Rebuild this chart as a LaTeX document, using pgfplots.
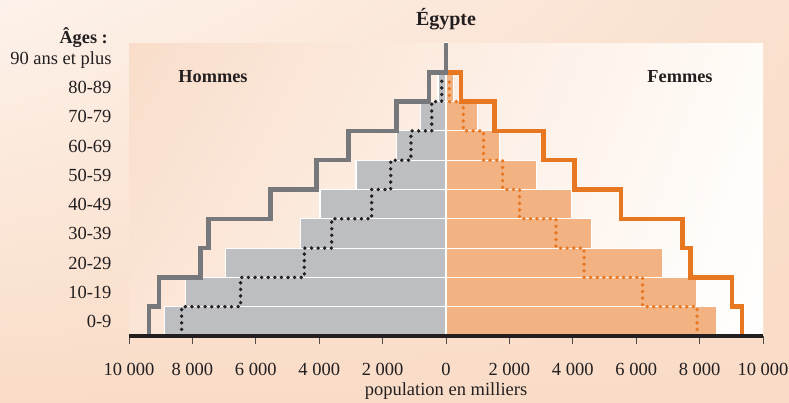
\documentclass[border=0pt]{standalone}
\usepackage{pgfplots}
\pgfplotsset{compat=1.18}
\usetikzlibrary{shadings}
\usepackage{fontspec}
\setmainfont{Liberation Serif}

\definecolor{txt}{HTML}{231F20}
\definecolor{barM}{HTML}{BDBEC1}
\definecolor{barF}{HTML}{F2B282}
\definecolor{lineM}{HTML}{77787B}
\definecolor{lineF}{HTML}{E87722}
\definecolor{bgA}{HTML}{FDF2EA}
\definecolor{bgB}{HTML}{FAE0CE}
\definecolor{bgC}{HTML}{F9DCC7}
\definecolor{inA}{HTML}{F9DDCA}
\definecolor{inB}{HTML}{FBE5D6}
\definecolor{inC}{HTML}{FFFBF7}

\newcommand{\lbl}{\fontsize{18.5bp}{21bp}\selectfont}
\newcommand{\hd}{\bfseries\fontsize{18.3bp}{21bp}\selectfont}

\begin{document}
\begin{tikzpicture}[x=1bp,y=1bp]
  \useasboundingbox (0,0) rectangle (789,402);
  % page background and plot area
  \shade[upper left=bgA, upper right=bgB, lower left=bgC, lower right=bgC]
    (0,0) rectangle (789,402);
  \shade[upper left=inA, lower left=inB, upper right=inC, lower right=white]
    (129,66) rectangle (763,359);

  \begin{axis}[
      at={(129bp,66bp)}, anchor=south west,
      scale only axis, width=634bp, height=293bp,
      xmin=-10000, xmax=10000, ymin=0, ymax=10,
      clip=false,
      axis line style={draw=none},
      scaled x ticks=false,
      xtick pos=lower,
      xtick={-10000,-8000,...,10000},
      xticklabels={10 000,8 000,6 000,4 000,2 000,0,2 000,4 000,6 000,8 000,10 000},
      xtick align=outside,
      major tick length=8bp,
      xtick style={draw=txt!80, line width=0.8bp},
      xticklabel style={font=\lbl, text=txt, yshift=-16bp},
      ytick={0.5,1.5,...,9.5},
      yticklabels={0-9,10-19,20-29,30-39,40-49,50-59,60-69,70-79,80-89,90 ans et plus},
      ytick style={draw=none},
      yticklabel style={font=\lbl, text=txt, anchor=base east, yshift=-6.5bp, xshift=-14bp},
    ]
    % bars
    \addplot[xbar, bar width=1, bar shift=0, fill=barM, draw=white, line width=1.2bp]
      coordinates {(-8890,0.5) (-8230,1.5) (-6950,2.5) (-4585,3.5) (-3975,4.5)
                   (-2840,5.5) (-1555,6.5) (-800,7.5) (-250,8.5) (-40,9.5)};
    \addplot[xbar, bar width=1, bar shift=0, fill=barF, draw=white, line width=1.2bp]
      coordinates {(8530,0.5) (7890,1.5) (6830,2.5) (4595,3.5) (3955,4.5)
                   (2850,5.5) (1680,6.5) (1000,7.5) (230,8.5) (40,9.5)};
    % dotted steps
    \addplot[txt, line width=3.8bp, line cap=round, dash pattern=on 0bp off 6.6bp]
      coordinates {(-8340,0) (-8340,1) (-6480,1) (-6480,2) (-4470,2) (-4470,3)
                   (-3605,3) (-3605,4) (-2345,4) (-2345,5) (-1745,5) (-1745,6)
                   (-1105,6) (-1105,7) (-450,7) (-450,8) (-135,8) (-135,8.85)};
    \addplot[lineF, line width=3.8bp, line cap=round, dash pattern=on 0bp off 6.6bp]
      coordinates {(7920,0) (7920,1) (6200,1) (6200,2) (4355,2) (4355,3)
                   (3470,3) (3470,4) (2320,4) (2320,5) (1785,5) (1785,6)
                   (1185,6) (1185,7) (545,7) (545,8) (105,8) (105,8.85)};
    % solid steps
    \addplot[lineF, line width=4.5bp]
      coordinates {(9340,0) (9340,1) (9020,1) (9020,2) (7710,2) (7710,3)
                   (7465,3) (7465,4) (5520,4) (5520,5) (4060,5) (4060,6)
                   (3080,6) (3080,7) (1525,7) (1525,8) (475,8) (475,9) (0,9)};
    \addplot[lineM, line width=4.5bp]
      coordinates {(-9370,0) (-9370,1) (-9060,1) (-9060,2) (-7740,2) (-7740,3)
                   (-7500,3) (-7500,4) (-5530,4) (-5530,5) (-4080,5) (-4080,6)
                   (-3080,6) (-3080,7) (-1555,7) (-1555,8) (-530,8) (-530,9)
                   (0,9) (0,10)};
    \draw[txt, line width=4bp] (axis cs:-10000,0) -- (axis cs:10000,0);
  \end{axis}

  \node[anchor=base, font=\bfseries\fontsize{20bp}{22bp}\selectfont, text=txt] at (446,377) {Égypte};
  \node[anchor=base, font=\hd, text=txt] at (213,320) {Hommes};
  \node[anchor=base, font=\hd, text=txt] at (680,320) {Femmes};
  \node[anchor=base east, font=\hd, text=txt, inner sep=0pt] at (108,359) {Âges :};
  \node[anchor=base, font=\lbl, text=txt] at (446,7) {population en milliers};
\end{tikzpicture}
\end{document}
